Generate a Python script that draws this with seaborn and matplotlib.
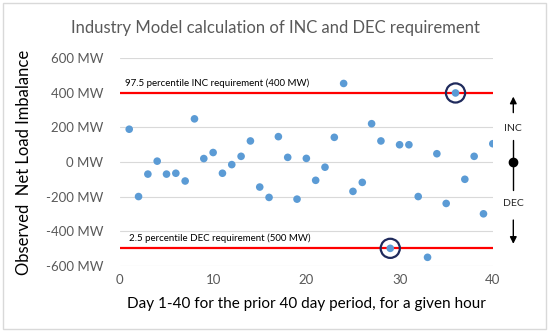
import numpy as np
import pandas as pd
import matplotlib
matplotlib.use("Agg")
import matplotlib.pyplot as plt
from matplotlib.patches import Rectangle
import seaborn as sns

days = list(range(1, 41))
imbalance = [190, -200, -70, 5, -70, -65, -110, 250, 20, 55,
             -65, -15, 33, 122, -145, -205, 147, 27, -215, 21,
             -106, -30, 143, 455, -170, -118, 222, 122, -500, 100,
             100, -200, -552, 48, -240, 400, -100, 33, -300, 106]
inc_req = 400
dec_req = -500
circled_days = [36, 29]
y_ticks = [-600, -400, -200, 0, 200, 400, 600]
y_tick_labels = [f"{v} MW" for v in y_ticks]
x_ticks = [0, 10, 20, 30, 40]

sns.set_theme(style="white")
plt.rcParams['font.family'] = ['Lato', 'DejaVu Sans']

df = pd.DataFrame({"day": days, "mw": imbalance})

fig = plt.figure(figsize=(5.5, 3.32), dpi=100)
ax = fig.add_axes([0.218, 0.2, 0.678, 0.624])

for v in y_ticks:
    ax.axhline(v, color="#D9D9D9", lw=0.8, zorder=0)

ax.axhline(inc_req, color="#FF0000", lw=1.6, zorder=1)
ax.axhline(dec_req, color="#FF0000", lw=1.6, zorder=1)

sns.scatterplot(data=df, x="day", y="mw", ax=ax, color="#5B9BD5",
                s=30, edgecolor="none", zorder=3, legend=False)

for d in circled_days:
    ax.scatter([d], [imbalance[d - 1]], s=190, facecolors="none",
               edgecolors="#1F2A5C", linewidths=1.6, zorder=4)

ax.set_xlim(0, 40)
ax.set_ylim(-600, 600)
ax.set_xticks(x_ticks)
ax.set_yticks(y_ticks)
ax.set_yticklabels(y_tick_labels)
ax.tick_params(axis="y", colors="#595959", labelsize=9.5, length=0, pad=12)
ax.tick_params(axis="x", colors="#595959", labelsize=9.5, length=0, pad=6)
for s in ax.spines.values():
    s.set_visible(False)

ax.set_xlabel("Day 1-40 for the prior 40 day period, for a given hour",
              fontsize=11, color="black", labelpad=8)
ax.set_ylabel("Observed  Net Load Imbalance", fontsize=12, color="black",
              labelpad=10)

ax.text(0.6, inc_req + 30, "97.5 percentile INC requirement (400 MW)",
        fontsize=7, color="black", va="bottom", ha="left")
ax.text(1.0, dec_req + 32, "2.5 percentile DEC requirement (500 MW)",
        fontsize=7, color="black", va="bottom", ha="left")

fig.text(0.5, 0.915, "Industry Model calculation of INC and DEC requirement",
         ha="center", va="center", fontsize=12, color="#595959")

# INC / DEC indicator on right
xr = 42.2
ax.plot([xr], [0], marker="o", color="black", markersize=6, clip_on=False)
ax.plot([xr, xr], [0, 128], color="black", lw=1, clip_on=False)
ax.plot([xr, xr], [0, -160], color="black", lw=1, clip_on=False)
ax.annotate("", xy=(xr, 395), xytext=(xr, 270),
            arrowprops=dict(arrowstyle="-|>", color="black", lw=1,
                            mutation_scale=10), annotation_clip=False)
ax.annotate("", xy=(xr, -490), xytext=(xr, -320),
            arrowprops=dict(arrowstyle="-|>", color="black", lw=1,
                            mutation_scale=10), annotation_clip=False)
ax.text(xr, 197, "INC", ha="center", va="center", fontsize=7.5, clip_on=False)
ax.text(xr, -243, "DEC", ha="center", va="center", fontsize=7.5, clip_on=False)

fig.patches.append(Rectangle((0.006, 0.009), 0.986, 0.982, transform=fig.transFigure,
                             fill=False, edgecolor="#D9D9D9", lw=1))

fig.savefig("out.png", dpi=100)
